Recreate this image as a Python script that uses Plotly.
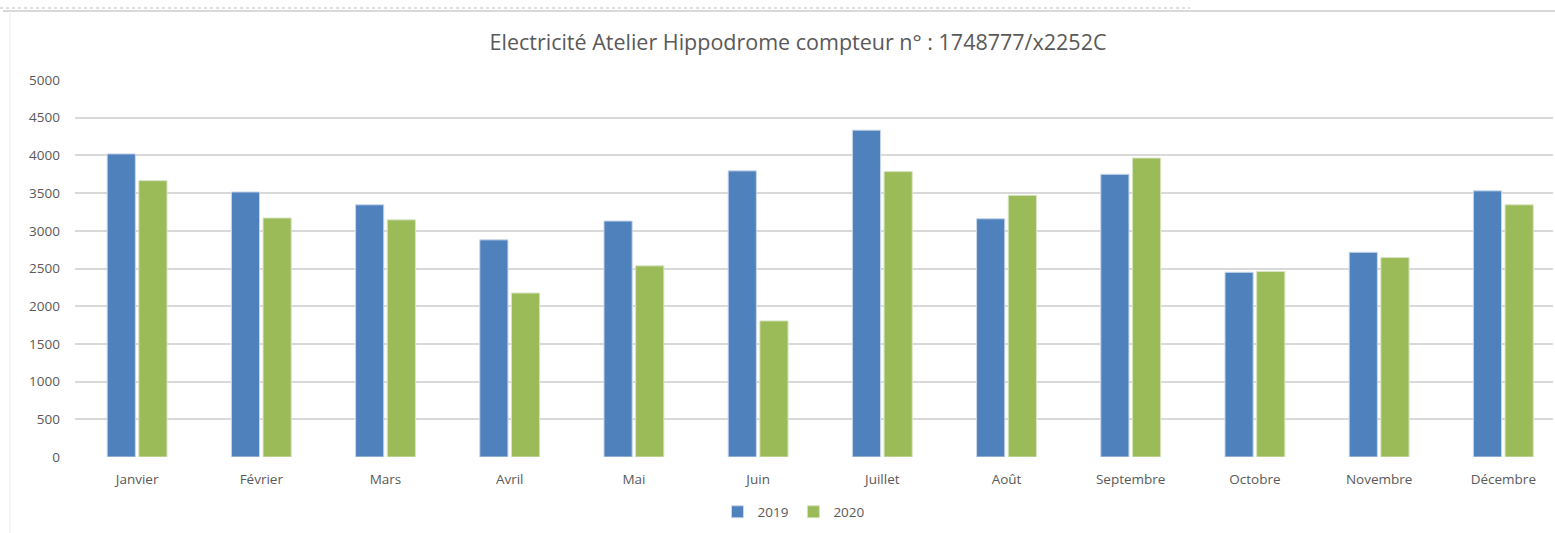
import plotly.graph_objects as go

months = ["Janvier", "Février", "Mars", "Avril", "Mai", "Juin", "Juillet",
          "Août", "Septembre", "Octobre", "Novembre", "Décembre"]
values_2019 = [4020, 3515, 3345, 2880, 3130, 3795, 4335, 3160, 3750, 2450, 2715, 3530]
values_2020 = [3665, 3170, 3145, 2175, 2535, 1805, 3785, 3470, 3965, 2460, 2645, 3345]
y_ticks = [0, 500, 1000, 1500, 2000, 2500, 3000, 3500, 4000, 4500, 5000]

W, H = 1555, 533
ML, MR, MT, MB = 75, 2, 80, 76
PW, PH = W - ML - MR, H - MT - MB

fig = go.Figure()
fig.add_trace(go.Bar(x=list(range(12)), y=values_2019, name="2019",
                     marker=dict(color="#4F81BD", line=dict(color="#C9D7EA", width=1))))
fig.add_trace(go.Bar(x=list(range(12)), y=values_2020, name="2020",
                     marker=dict(color="#9BBB59", line=dict(color="#D7E4C0", width=1))))

font_family = "Open Sans, sans-serif"

fig.update_layout(
    width=W, height=H,
    margin=dict(l=ML, r=MR, t=MT, b=MB, autoexpand=False),
    paper_bgcolor="white", plot_bgcolor="white",
    barmode="group", bargap=0.49, bargroupgap=0.11,
    title=dict(text="Electricité Atelier Hippodrome compteur n° : 1748777/x2252C",
               x=798 / W, xanchor="center", y=1 - 42 / H, yanchor="middle",
               font=dict(family=font_family, size=21.5, color="#595959")),
    xaxis=dict(tickmode="array", tickvals=list(range(12)), ticktext=months,
               range=[-0.5, 11.4], showgrid=False, zeroline=False,
               showline=False, ticks="", ticklabelstandoff=12,
               tickfont=dict(family=font_family, size=13.5, color="#595959")),
    yaxis=dict(range=[0, 5000], tickvals=y_ticks, showgrid=True,
               gridcolor="#D9D9D9", gridwidth=1.5, zeroline=False, showline=False,
               ticks="", ticklabelstandoff=14,
               tickfont=dict(family=font_family, size=13.5, color="#595959")),
    legend=dict(orientation="h", x=(794 - ML) / PW, xanchor="center",
                y=-(512 - (MT + PH)) / PH, yanchor="middle", traceorder="normal",
                font=dict(family=font_family, size=13.5, color="#595959"),
                itemwidth=30, tracegroupgap=0),
    showlegend=True,
)

# frame artifacts from the original screenshot
fig.add_shape(type="line", xref="paper", yref="paper",
              x0=(3 - ML) / PW, x1=1 + MR / PW,
              y0=1 + (MT - 11) / PH, y1=1 + (MT - 11) / PH,
              line=dict(color="#D9D9D9", width=2))
fig.add_shape(type="line", xref="paper", yref="paper",
              x0=(10 - ML) / PW, x1=(10 - ML) / PW,
              y0=1 + (MT - 11) / PH, y1=-MB / PH,
              line=dict(color="#EDEDED", width=1))
fig.add_shape(type="line", xref="paper", yref="paper",
              x0=-ML / PW, x1=(1190 - ML) / PW,
              y0=1 + (MT - 8) / PH, y1=1 + (MT - 8) / PH,
              line=dict(color="#BFBFBF", width=1, dash="dot"))

fig.write_html("out.html", config={"displayModeBar": False},
               post_script="document.body.style.margin='0px';document.body.style.overflow='hidden';")
